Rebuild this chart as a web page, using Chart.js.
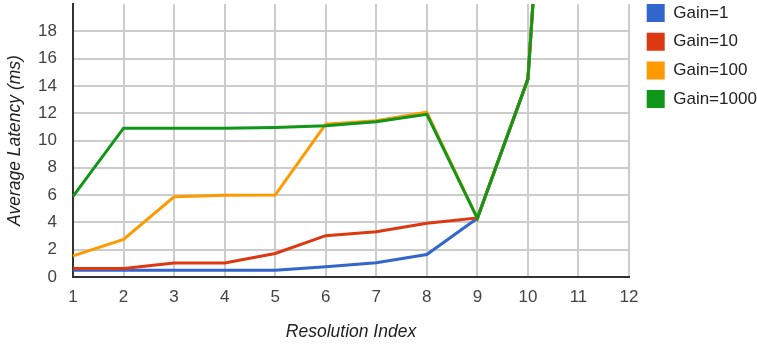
<!DOCTYPE html>
<html>
<head>
<meta charset="utf-8">
<title>Average Latency</title>
<script src="https://cdn.jsdelivr.net/npm/chart.js@4/dist/chart.umd.min.js"></script>
<style>
    html, body { margin: 0; padding: 0; background: #fff; }
    #chart-wrap { width: 757px; height: 350px; position: relative; }
</style>
</head>
<body>
<div id="chart-wrap"><canvas id="latency-chart"></canvas></div>
<script>
// Resolution index on the x axis
const resolutionIndex = ['1', '2', '3', '4', '5', '6', '7', '8', '9', '10', '11', '12'];

// Average latency (ms) per gain setting
const gain1    = [0.5, 0.5, 0.5, 0.5, 0.5, 0.75, 1.05, 1.65, 4.3, 14.5, 70, null];
const gain10   = [0.62, 0.62, 1.03, 1.03, 1.72, 3.03, 3.32, 3.93, 4.33, 14.5, 70, null];
const gain100  = [1.55, 2.75, 5.88, 5.98, 6.0, 11.2, 11.45, 12.07, 4.3, 14.5, 70, null];
const gain1000 = [5.9, 10.9, 10.9, 10.9, 10.95, 11.08, 11.38, 11.92, 4.3, 14.5, 70, null];

const seriesNames  = ['Gain=1', 'Gain=10', 'Gain=100', 'Gain=1000'];
const seriesColors = ['#3366cc', '#dc3912', '#ff9900', '#109618'];

// y axis ticks shown (axis runs a bit past the last one)
const yTickValues = [0, 2, 4, 6, 8, 10, 12, 14, 16, 18];
const yMax = 20;

Chart.defaults.font.family = "'Liberation Sans', Arial, sans-serif";
Chart.defaults.font.size = 17;

// legend sits a little off the plot edge, like the original
const legendNudge = {
    id: 'legendNudge',
    afterLayout: function(chart){
        const lg = chart.legend;
        lg.left += 7;
        lg.right += 7;
        lg.top -= 6.7;
        lg.bottom -= 6.7;
    }
};

const allSeries = [gain1, gain10, gain100, gain1000];

const ctx = document.getElementById('latency-chart').getContext('2d');
new Chart(ctx, {
    type: 'line',
    data: {
        labels: resolutionIndex,
        datasets: allSeries.map(function(values, i){
            return {
                label: seriesNames[i],
                data: values,
                borderColor: seriesColors[i],
                backgroundColor: seriesColors[i],
                borderWidth: 3,
                pointRadius: 0,
                pointHoverRadius: 0,
                tension: 0,
                order: allSeries.length - i // later series drawn on top
            };
        })
    },
    options: {
        responsive: true,
        maintainAspectRatio: false,
        animation: false,
        layout: { padding: 0 },
        scales: {
            x: {
                type: 'category',
                grid: { color: '#cccccc', lineWidth: 2, drawTicks: false },
                border: { display: true, color: '#333333', width: 2 },
                ticks: { color: '#444444', padding: 10, maxRotation: 0, autoSkip: false },
                title: {
                    display: true,
                    text: 'Resolution Index',
                    color: '#222222',
                    font: { style: 'italic', size: 17.5 },
                    padding: { top: 15, bottom: 7 }
                },
                afterFit: function(scale){ scale.height = 73; }
            },
            y: {
                min: 0,
                max: yMax,
                grid: { color: '#cccccc', lineWidth: 2, drawTicks: false },
                border: { display: true, color: '#333333', width: 2 },
                ticks: { color: '#444444', padding: 16, stepSize: 2 },
                afterBuildTicks: function(scale){
                    scale.ticks = yTickValues.map(function(v){ return { value: v }; });
                },
                title: {
                    display: true,
                    text: 'Average Latency (ms)',
                    color: '#222222',
                    font: { style: 'italic', size: 17.5 },
                    padding: { top: 5, bottom: 10 }
                },
                afterFit: function(scale){
                    scale.width = 73;
                    scale.paddingTop = 4;
                }
            }
        },
        plugins: {
            legend: {
                position: 'right',
                align: 'start',
                maxWidth: 128,
                labels: {
                    color: '#222222',
                    boxWidth: 18,
                    boxHeight: 18,
                    padding: 10.7,
                    sort: function(a, b){ return a.datasetIndex - b.datasetIndex; },
                    generateLabels: function(chart){
                        return Chart.defaults.plugins.legend.labels.generateLabels(chart).map(function(item){
                            item.lineWidth = 0;
                            return item;
                        });
                    }
                }
            },
            tooltip: { enabled: false }
        }
    },
    plugins: [legendNudge]
});
</script>
</body>
</html>
